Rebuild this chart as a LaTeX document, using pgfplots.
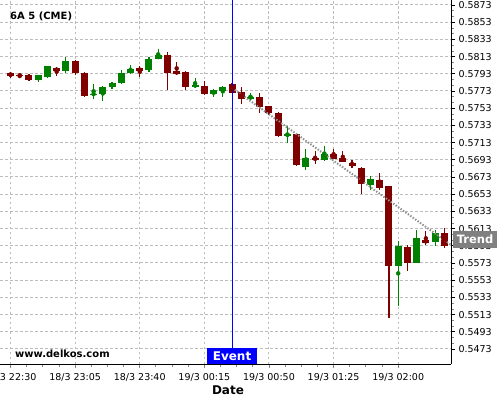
\documentclass[border=0pt]{standalone}
\usepackage{fontspec}
\setmainfont{DejaVu Sans}
\usepackage{pgfplots}
\usepackage{pgfplotstable}
\pgfplotsset{compat=1.18}
\definecolor{cgreen}{RGB}{0,128,0}
\definecolor{cred}{RGB}{128,0,0}
\definecolor{gridc}{RGB}{188,188,188}
\definecolor{trendc}{RGB}{145,145,145}
\definecolor{boxgray}{RGB}{128,128,128}

\pgfplotstableread{
x o h l c
3 0.57861 0.57919 0.57838 0.57916
4 0.57896 0.58024 0.57885 0.58021
6 0.57966 0.58122 0.57943 0.58079
9 0.57691 0.57811 0.57640 0.57698
10 0.57698 0.57788 0.57617 0.57776
11 0.57780 0.57838 0.57757 0.57823
12 0.57823 0.57971 0.57808 0.57939
13 0.57939 0.58032 0.57924 0.57986
15 0.57974 0.58122 0.57954 0.58102
16 0.58102 0.58215 0.58098 0.58148
20 0.57788 0.57881 0.57761 0.57800
22 0.57695 0.57757 0.57664 0.57741
23 0.57730 0.57788 0.57664 0.57776
26 0.57648 0.57703 0.57625 0.57660
30 0.57210 0.57326 0.57122 0.57230
32 0.56850 0.57055 0.56815 0.56951
34 0.56931 0.57087 0.56919 0.56997
39 0.56637 0.56742 0.56575 0.56707
42 0.55699 0.55986 0.55233 0.55928
44 0.55733 0.56110 0.55733 0.56021
46 0.55977 0.56110 0.55928 0.56079
}\greentab

\pgfplotstableread{
x o h l c
0 0.57943 0.57951 0.57887 0.57904
1 0.57919 0.57924 0.57885 0.57908
2 0.57916 0.57922 0.57850 0.57861
5 0.57997 0.58009 0.57901 0.57962
7 0.58079 0.58094 0.57912 0.57943
8 0.57939 0.57951 0.57664 0.57675
14 0.57997 0.58021 0.57889 0.57962
17 0.58148 0.58180 0.57741 0.57939
18 0.57962 0.58071 0.57916 0.57931
19 0.57947 0.57962 0.57745 0.57776
21 0.57788 0.57846 0.57683 0.57698
24 0.57811 0.57823 0.57707 0.57710
25 0.57718 0.57773 0.57575 0.57640
27 0.57656 0.57703 0.57478 0.57547
28 0.57555 0.57561 0.57451 0.57478
29 0.57474 0.57489 0.57191 0.57207
31 0.57230 0.57241 0.56854 0.56869
33 0.56954 0.57029 0.56878 0.56931
35 0.56994 0.57055 0.56936 0.56943
36 0.56954 0.57029 0.56901 0.56908
37 0.56896 0.56927 0.56835 0.56858
38 0.56835 0.56846 0.56529 0.56652
40 0.56695 0.56773 0.56579 0.56606
41 0.56625 0.56625 0.55087 0.55699
43 0.55916 0.55943 0.55633 0.55733
45 0.55997 0.56099 0.55936 0.55966
47 0.56079 0.56133 0.55901 0.55928
}\redtab

\begin{document}
\begin{tikzpicture}
\begin{axis}[
  at={(0pt,36pt)}, anchor=south west,
  scale only axis, width=451pt, height=364pt,
  xmin=-1.138, xmax=47.72, ymin=0.54555, ymax=0.58788,
  axis x line*=bottom, axis y line*=right,
  axis line style={black, line width=1pt, -},
  xtick={0,7,14,21,28,35,42},
  xticklabels={18/3 22:30,18/3 23:05,18/3 23:40,19/3 00:15,19/3 00:50,19/3 01:25,19/3 02:00},
  ytick={0.5473,0.5493,0.5513,0.5533,0.5553,0.5573,0.5593,0.5613,0.5633,0.5653,0.5673,0.5693,0.5713,0.5733,0.5753,0.5773,0.5793,0.5813,0.5833,0.5853,0.5873},
  yticklabels={0.5473,0.5493,0.5513,0.5533,0.5553,0.5573,0.5593,0.5613,0.5633,0.5653,0.5673,0.5693,0.5713,0.5733,0.5753,0.5773,0.5793,0.5813,0.5833,0.5853,0.5873},
  minor x tick num=3, minor y tick num=2,
  tick align=outside,
  major tick length=4pt, minor tick length=3pt,
  xmajorgrids, ymajorgrids,
  major grid style={gridc, dash pattern=on 2.5pt off 2.5pt, line width=1pt},
  x tick style={gridc!70!black, line width=0.8pt},
  y tick style={black, line width=0.8pt},
  minor y tick style={gridc!70!black, line width=0.6pt},
  ticklabel style={font=\fontsize{9.5}{11}\selectfont},
  xticklabel style={yshift=-1.5pt},
]
% wicks
\addplot[cgreen, only marks, mark=none, forget plot,
  error bars/.cd, y dir=both, y explicit, error mark=none,
  error bar style={cgreen, line width=1.2pt, solid}]
  table[x=x, y expr={(\thisrow{h}+\thisrow{l})/2}, y error expr={(\thisrow{h}-\thisrow{l})/2}] {\greentab};
\addplot[cred, only marks, mark=none, forget plot,
  error bars/.cd, y dir=both, y explicit, error mark=none,
  error bar style={cred, line width=1.2pt, solid}]
  table[x=x, y expr={(\thisrow{h}+\thisrow{l})/2}, y error expr={(\thisrow{h}-\thisrow{l})/2}] {\redtab};
% bodies
\addplot[cgreen, only marks, mark=none, forget plot,
  error bars/.cd, y dir=both, y explicit, error mark=none,
  error bar style={cgreen, line width=7pt, solid}]
  table[x=x, y expr={(\thisrow{o}+\thisrow{c})/2}, y error expr={max(abs(\thisrow{c}-\thisrow{o})/2,0.00007)}] {\greentab};
\addplot[cred, only marks, mark=none, forget plot,
  error bars/.cd, y dir=both, y explicit, error mark=none,
  error bar style={cred, line width=7pt, solid}]
  table[x=x, y expr={(\thisrow{o}+\thisrow{c})/2}, y error expr={max(abs(\thisrow{c}-\thisrow{o})/2,0.00007)}] {\redtab};
% trend
\addplot[trendc, line width=2pt, dash pattern=on 1.4pt off 1.6pt, no marks] coordinates {(24.3,0.57744) (47.72,0.55939)};
% event line
\addplot[blue, line width=1pt, no marks] coordinates {(24,0.54555) (24,0.58788)};
\coordinate (ev) at (axis cs:24,0.54555);
\end{axis}
\node[fill=blue, text=white, font=\bfseries\fontsize{12}{12}\selectfont, anchor=south,
  minimum width=50pt, minimum height=16pt, inner sep=0pt] at (ev) {Event};
\node[fill=boxgray, text=white, font=\bfseries\fontsize{11.5}{12}\selectfont, anchor=north west,
  minimum height=17pt, inner xsep=4pt, inner ysep=0pt] at (452.7pt,169pt) {Trend};
\node[anchor=base west, inner sep=0pt, font=\bfseries\fontsize{10}{12}\selectfont] at (10pt,380pt) {6A 5 (CME)};
\node[anchor=base west, inner sep=0pt, font=\bfseries\fontsize{10}{12}\selectfont] at (15pt,42.3pt) {www.delkos.com};
\node[anchor=base, inner sep=0pt, font=\bfseries\fontsize{12}{12}\selectfont] at (228pt,6pt) {Date};
\pgfresetboundingbox
\path[use as bounding box] (0pt,0pt) rectangle (500pt,400pt);
\end{tikzpicture}
\end{document}
